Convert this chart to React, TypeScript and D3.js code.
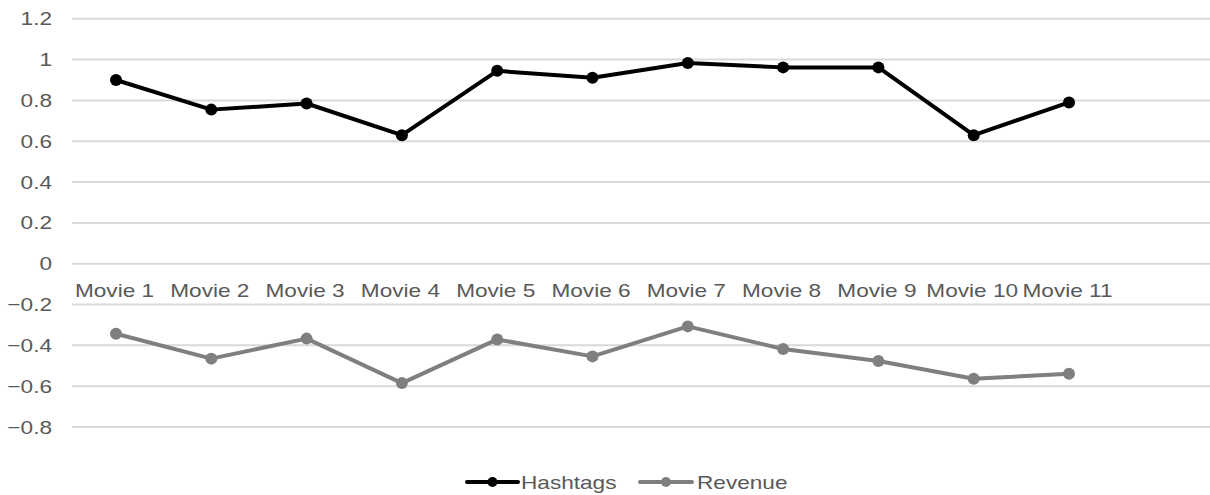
import React from "react";
import * as d3 from "d3";

const categories = [
  "Movie 1", "Movie 2", "Movie 3", "Movie 4", "Movie 5", "Movie 6",
  "Movie 7", "Movie 8", "Movie 9", "Movie 10", "Movie 11",
];
const hashtags = [0.9, 0.755, 0.785, 0.63, 0.945, 0.911, 0.983, 0.962, 0.962, 0.63, 0.79];
const revenue = [-0.343, -0.465, -0.367, -0.585, -0.371, -0.454, -0.307, -0.418, -0.477, -0.564, -0.539];
const yTicks = [-0.8, -0.6, -0.4, -0.2, 0, 0.2, 0.4, 0.6, 0.8, 1, 1.2];
const seriesNames = ["Hashtags", "Revenue"];

const W = 1210;
const H = 495;
const FONT = "'Liberation Sans', Arial, Helvetica, sans-serif";
const TEXT = "#595959";
const GRID = "#d9d9d9";
const colors = ["#000000", "#7f7f7f"];
const SX = 1.19;

function Label({ x, y, anchor, children, size = 19 }: any) {
  return (
    <text
      transform={`translate(${x},${y}) scale(${SX},1)`}
      textAnchor={anchor}
      fontFamily={FONT}
      fontSize={size}
      fill={TEXT}
    >
      {children}
    </text>
  );
}

export default function App() {
  const x = d3.scalePoint<string>().domain(categories).range([116, 1069]);
  const y = d3.scaleLinear().domain([-0.8, 1.2]).range([427, 18.8]);
  const line = d3
    .line<number>()
    .x((_, i) => x(categories[i]) as number)
    .y((d) => y(d));

  const series = [hashtags, revenue];
  const legend = [
    { x0: 467, x1: 518, tx: 521 },
    { x0: 640, x1: 692, tx: 697 },
  ];

  return (
    <svg
      width={W}
      height={H}
      style={{ position: "absolute", left: 0, top: 0, background: "#fff" }}
    >
      {yTicks.map((t) => (
        <g key={t}>
          <line x1={72} x2={W} y1={y(t)} y2={y(t)} stroke={GRID} strokeWidth={2} />
          <Label x={52} y={y(t) + 6.5} anchor="end">
            {d3.format("")(Math.round(t * 10) / 10)}
          </Label>
        </g>
      ))}
      {categories.map((c) => (
        <Label key={c} x={(x(c) as number) - 1.5} y={297} anchor="middle">
          {c}
        </Label>
      ))}
      {series.map((s, k) => (
        <g key={k}>
          <path d={line(s) || ""} fill="none" stroke={colors[k]} strokeWidth={4} strokeLinejoin="round" />
          {s.map((v, i) => (
            <circle key={i} cx={x(categories[i]) as number} cy={y(v)} r={6} fill={colors[k]} />
          ))}
        </g>
      ))}
      {seriesNames.map((n, k) => (
        <g key={n}>
          <line
            x1={legend[k].x0}
            x2={legend[k].x1}
            y1={482}
            y2={482}
            stroke={colors[k]}
            strokeWidth={4}
            strokeLinecap="round"
          />
          <circle cx={(legend[k].x0 + legend[k].x1) / 2} cy={482} r={5} fill={colors[k]} />
          <Label x={legend[k].tx} y={488.5} anchor="start">
            {n}
          </Label>
        </g>
      ))}
    </svg>
  );
}
